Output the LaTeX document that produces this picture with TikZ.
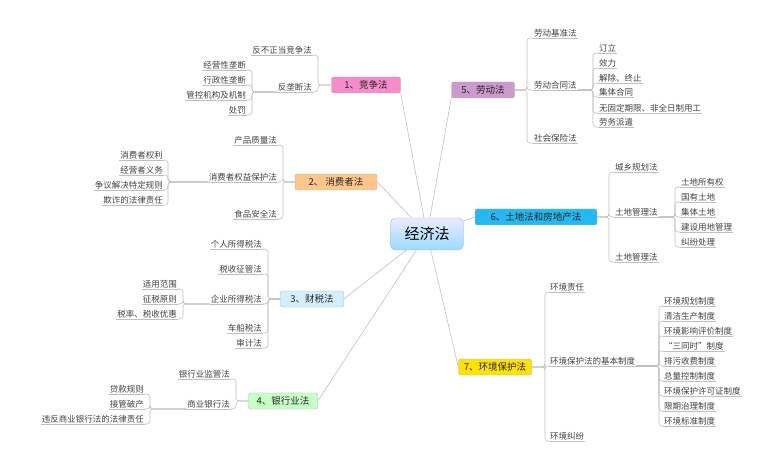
\documentclass[tikz,border=0pt]{standalone}
\usepackage{fontspec}
\setmainfont{Noto Sans CJK SC}
\usetikzlibrary{backgrounds}
\begin{document}
\begin{tikzpicture}[x=1pt,y=-1pt,
  conn/.style={draw=black!25,line width=0.6pt,rounded corners=3pt},
  leaf/.style={inner sep=1pt,font=\fontsize{8.5}{9}\selectfont,text=black!75,
    append after command={(\tikzlastnode.south west) edge[draw=black!25,line width=0.6pt] (\tikzlastnode.south east)}},
  topic/.style={draw=black!30,rounded corners=2pt,minimum height=16pt,inner xsep=5pt,inner ysep=1pt,font=\fontsize{9.5}{10}\selectfont,text=black!85}]
\useasboundingbox (0,0) rectangle (780,468);
% center
\node[draw=blue!35!black!30,rounded corners=5pt,top color=blue!8,bottom color=blue!35!cyan!40,minimum width=73pt,minimum height=32pt,font=\fontsize{15}{16}\selectfont] (c) at (427,234) {经济法};
% topics
\node[topic,fill=magenta!45,minimum width=69pt] (t1) at (366,85) {1、竞争法};
\node[topic,fill=orange!45,minimum width=82pt] (t2) at (336,182) {2、 消费者法};
\node[topic,fill=cyan!18,minimum width=63pt] (t3) at (312,299) {3、财税法};
\node[topic,fill=green!22,minimum width=69pt] (t4) at (283,401) {4、银行业法};
\node[topic,fill=violet!40,minimum width=63pt] (t5) at (483,90) {5、劳动法};
\node[topic,fill=cyan!85,minimum width=122pt] (t6) at (536,217) {6、土地法和房地产法};
\node[topic,fill=yellow!85!orange,minimum width=73pt] (t7) at (495,367) {7、环境保护法};
\begin{scope}[on background layer]
\foreach \t/\a in {t1/south east,t2/east,t3/east,t4/east,t5/south west,t6/west,t7/west}
  \draw[draw=black!25,line width=0.6pt] (c.center) -- (\t.\a);
\end{scope}
% bracket coordinates
\foreach \n/\x in {b1/318,b1a/252,b2/283,b2a/168,b3/268,b3a/183,b4/236,b4a/150,b5/527,b5a/593,b6/609,b6a/675,b7/545,b7a/659}
  \coordinate (\n) at (\x,0);
% topic 1
\node[leaf,anchor=south east] (a1) at (313,55) {反不正当竞争法};
\node[leaf,anchor=south east] (a2) at (313,92) {反垄断法};
\node[leaf,anchor=south east] (a21) at (247,70) {经营性垄断};
\node[leaf,anchor=south east] (a22) at (247,85) {行政性垄断};
\node[leaf,anchor=south east] (a23) at (247,100) {管控机构及机制};
\node[leaf,anchor=south east] (a24) at (247,115) {处罚};
\foreach \k in {a1,a2} \draw[conn] (t1.west) -- (t1.west -| b1) |- (\k.south east);
\foreach \k in {a21,a22,a23,a24} \draw[conn] (a2.south west) -- (a2.south west -| b1a) |- (\k.south east);
% topic 2
\node[leaf,anchor=south east] (e1) at (278,145) {产品质量法};
\node[leaf,anchor=south east] (e2) at (278,182) {消费者权益保护法};
\node[leaf,anchor=south east] (e3) at (278,219) {食品安全法};
\node[leaf,anchor=south east] (e21) at (164,160) {消费者权利};
\node[leaf,anchor=south east] (e22) at (164,175) {经营者义务};
\node[leaf,anchor=south east] (e23) at (164,190) {争议解决特定规则};
\node[leaf,anchor=south east] (e24) at (164,205) {欺诈的法律责任};
\foreach \k in {e1,e2,e3} \draw[conn] (t2.west) -- (t2.west -| b2) |- (\k.south east);
\foreach \k in {e21,e22,e23,e24} \draw[conn] (e2.south west) -- (e2.south west -| b2a) |- (\k.south east);
% topic 3
\node[leaf,anchor=south east] (f1) at (263,249) {个人所得税法};
\node[leaf,anchor=south east] (f2) at (263,274) {税收征管法};
\node[leaf,anchor=south east] (f3) at (263,304) {企业所得税法};
\node[leaf,anchor=south east] (f4) at (263,333) {车船税法};
\node[leaf,anchor=south east] (f5) at (263,348) {审计法};
\node[leaf,anchor=south east] (f31) at (178,289) {适用范围};
\node[leaf,anchor=south east] (f32) at (178,304) {征税原则};
\node[leaf,anchor=south east] (f33) at (178,319) {税率、税收优惠};
\foreach \k in {f1,f2,f3,f4,f5} \draw[conn] (t3.west) -- (t3.west -| b3) |- (\k.south east);
\foreach \k in {f31,f32,f33} \draw[conn] (f3.south west) -- (f3.south west -| b3a) |- (\k.south east);
% topic 4
\node[leaf,anchor=south east] (g1) at (231,379) {银行业监管法};
\node[leaf,anchor=south east] (g2) at (231,409) {商业银行法};
\node[leaf,anchor=south east] (g21) at (145,394) {贷款规则};
\node[leaf,anchor=south east] (g22) at (145,409) {接管破产};
\node[leaf,anchor=south east] (g23) at (145,424) {违反商业银行法的法律责任};
\foreach \k in {g1,g2} \draw[conn] (t4.west) -- (t4.west -| b4) |- (\k.south east);
\foreach \k in {g21,g22,g23} \draw[conn] (g2.south west) -- (g2.south west -| b4a) |- (\k.south east);
% topic 5
\node[leaf,anchor=south west] (h1) at (533,38) {劳动基准法};
\node[leaf,anchor=south west] (h2) at (533,90) {劳动合同法};
\node[leaf,anchor=south west] (h3) at (533,143) {社会保险法};
\node[leaf,anchor=south west] (h21) at (598,53) {订立};
\node[leaf,anchor=south west] (h22) at (598,68) {效力};
\node[leaf,anchor=south west] (h23) at (598,83) {解除、终止};
\node[leaf,anchor=south west] (h24) at (598,97) {集体合同};
\node[leaf,anchor=south west] (h25) at (598,113) {无固定期限、非全日制用工};
\node[leaf,anchor=south west] (h26) at (598,127) {劳务派遣};
\foreach \k in {h1,h2,h3} \draw[conn] (t5.east) -- (t5.east -| b5) |- (\k.south west);
\foreach \k in {h21,h22,h23,h24,h25,h26} \draw[conn] (h2.south east) -- (h2.south east -| b5a) |- (\k.south west);
% topic 6
\node[leaf,anchor=south west] (k1) at (614,172) {城乡规划法};
\node[leaf,anchor=south west] (k2) at (614,217) {土地管理法};
\node[leaf,anchor=south west] (k3) at (614,262) {土地管理法};
\node[leaf,anchor=south west] (k21) at (680,187) {土地所有权};
\node[leaf,anchor=south west] (k22) at (680,202) {国有土地};
\node[leaf,anchor=south west] (k23) at (680,217) {集体土地};
\node[leaf,anchor=south west] (k24) at (680,232) {建设用地管理};
\node[leaf,anchor=south west] (k25) at (680,247) {纠纷处理};
\foreach \k in {k1,k2,k3} \draw[conn] (t6.east) -- (t6.east -| b6) |- (\k.south west);
\foreach \k in {k21,k22,k23,k24,k25} \draw[conn] (k2.south east) -- (k2.south east -| b6a) |- (\k.south west);
% topic 7
\node[leaf,anchor=south west] (m1) at (549,292) {环境责任};
\node[leaf,anchor=south west] (m2) at (549,366) {环境保护法的基本制度};
\node[leaf,anchor=south west] (m3) at (549,441) {环境纠纷};
\node[leaf,anchor=south west] (m21) at (663,306) {环境规划制度};
\node[leaf,anchor=south west] (m22) at (663,321) {清洁生产制度};
\node[leaf,anchor=south west] (m23) at (663,336) {环境影响评价制度};
\node[leaf,anchor=south west] (m24) at (663,351) {“三同时”制度};
\node[leaf,anchor=south west] (m25) at (663,366) {排污收费制度};
\node[leaf,anchor=south west] (m26) at (663,381) {总量控制制度};
\node[leaf,anchor=south west] (m27) at (663,396) {环境保护许可证制度};
\node[leaf,anchor=south west] (m28) at (663,411) {限期治理制度};
\node[leaf,anchor=south west] (m29) at (663,426) {环境标准制度};
\foreach \k in {m1,m2,m3} \draw[conn] (t7.east) -- (t7.east -| b7) |- (\k.south west);
\foreach \k in {m21,m22,m23,m24,m25,m26,m27,m28,m29} \draw[conn] (m2.south east) -- (m2.south east -| b7a) |- (\k.south west);
\end{tikzpicture}
\end{document}
